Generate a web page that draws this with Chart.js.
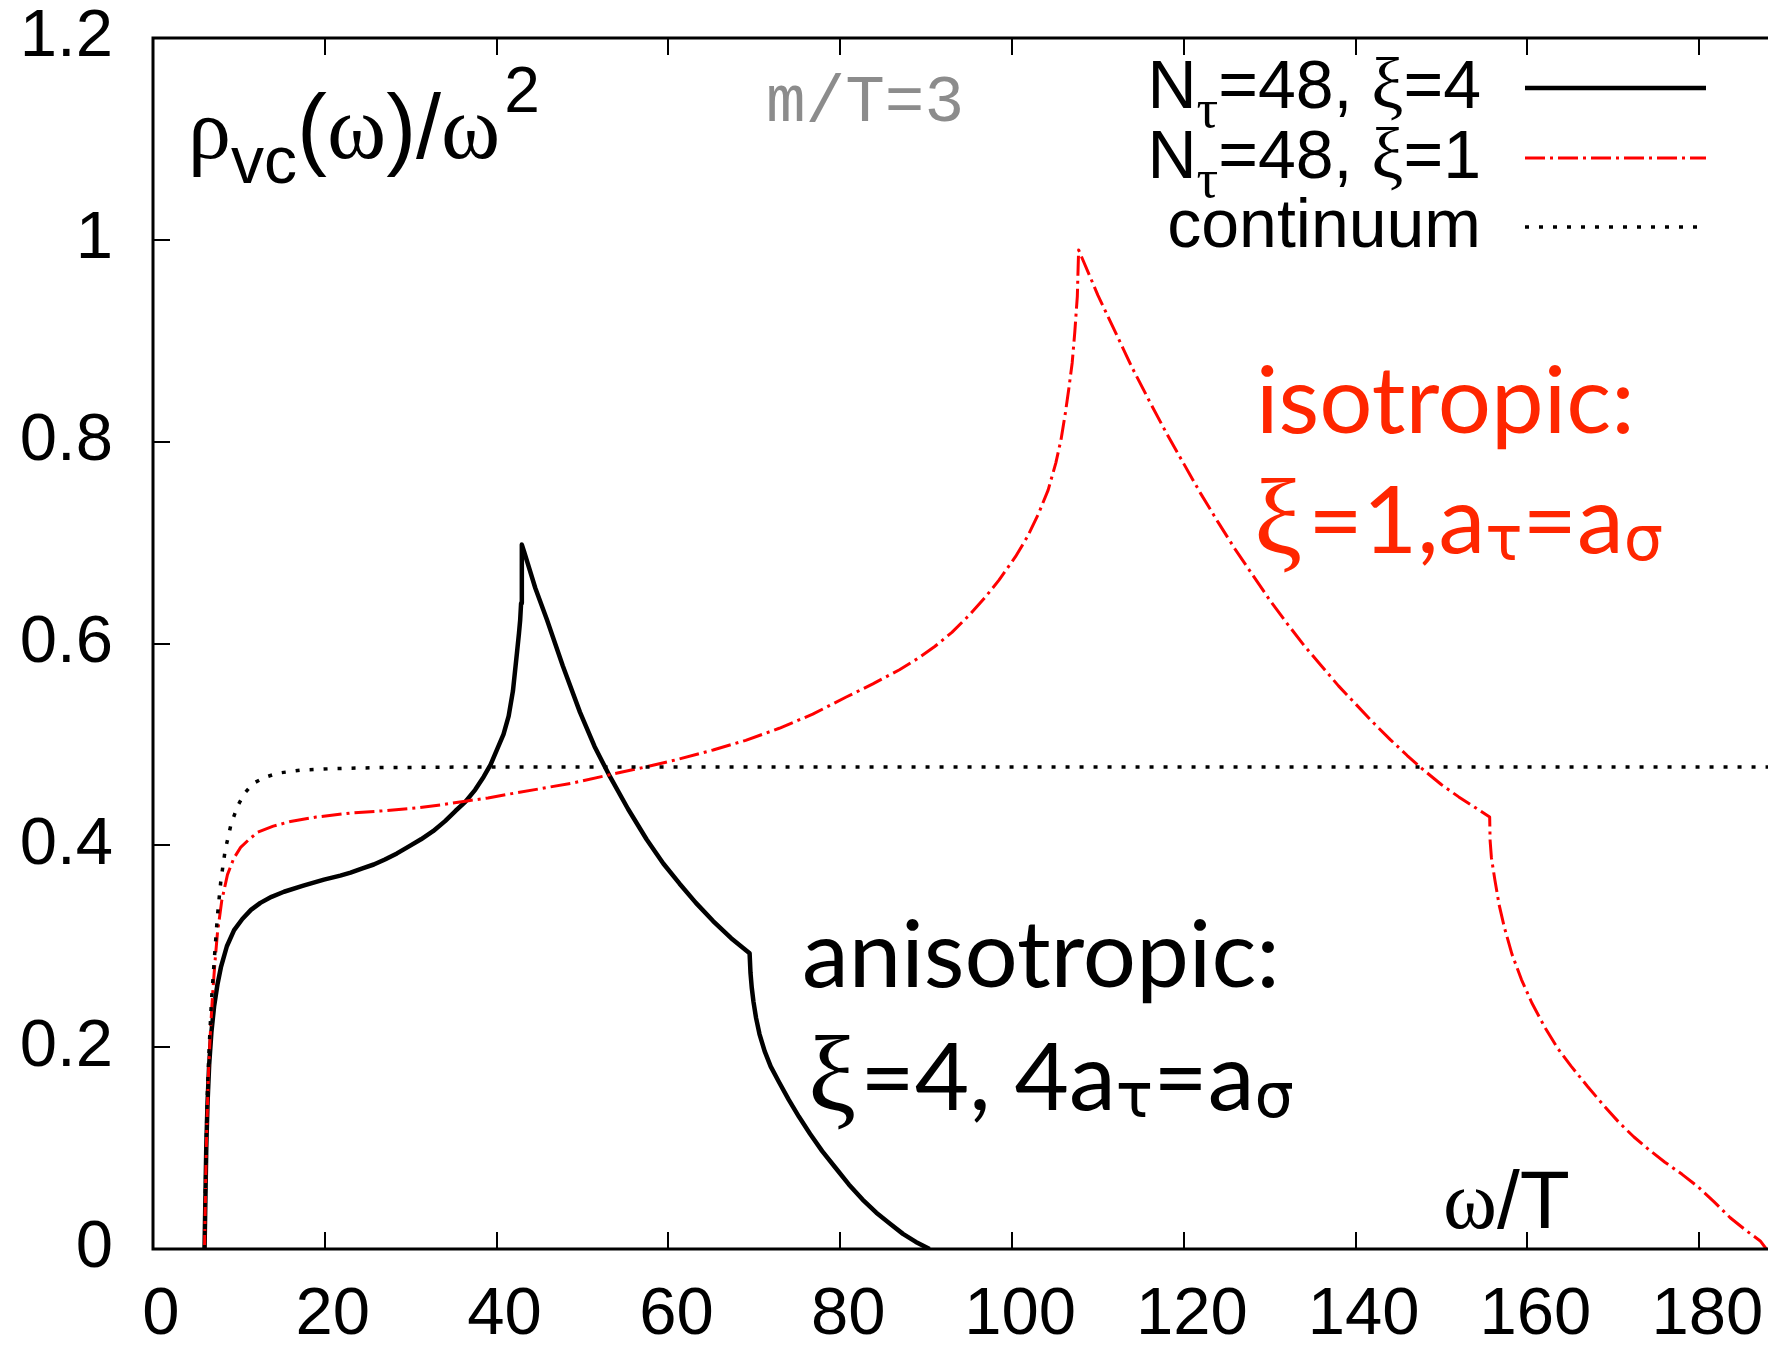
<!DOCTYPE html>
<html>
<head>
<meta charset="utf-8">
<title>rho_vc / omega^2</title>
<script src="https://cdn.jsdelivr.net/npm/chart.js@4.4.1/dist/chart.umd.min.js"></script>
<style>
  body { margin: 0; background: #fff; }
  #wrap { width: 1768px; height: 1345px; }
  canvas { display: block; }
</style>
</head>
<body>
<div id="wrap"><canvas id="myChart" width="1768" height="1345"></canvas></div>
<script>
"use strict"

// tick values
const xTicks = [0, 20, 40, 60, 80, 100, 120, 140, 160, 180];
const yTicks = [0, 0.2, 0.4, 0.6, 0.8, 1, 1.2];

// N_tau=48, xi=4 (anisotropic)
const omegaAniso = [6.0, 6.1, 6.2, 6.35, 6.54, 6.8, 7.12, 7.5, 7.9, 8.6, 9.44, 10.4, 11.4, 12.5, 13.8, 15.25, 17.5, 19.9, 21.8, 23.0,
  24.3, 25.7, 27.0, 28.4, 29.8, 31.2, 32.6, 34.0, 35.2, 36.35, 37.5, 38.5, 39.3, 40.03, 40.8, 41.4, 41.9, 42.36, 42.6, 42.74,
  42.85, 42.92, 42.95,
  43.2, 44.5, 45.84, 47.7, 49.7, 51.4, 53.2, 55.3, 57.45, 59.4, 61.3, 63.2, 65.2, 67.3, 69.45,
  69.55, 69.7, 69.9, 70.2, 70.6, 71.2, 71.9, 72.9, 74.0, 75.2, 76.5, 77.9, 79.4, 81.0, 82.6, 84.2, 85.8, 87.3, 88.8, 90.4];
const rhoAniso = [0, 0.05, 0.1, 0.145, 0.183, 0.215, 0.241, 0.262, 0.279, 0.300, 0.316, 0.327, 0.336, 0.343, 0.349, 0.354, 0.360, 0.366, 0.370, 0.373,
  0.377, 0.381, 0.386, 0.392, 0.399, 0.406, 0.414, 0.424, 0.434, 0.443, 0.455, 0.468, 0.480, 0.4945, 0.510, 0.528, 0.553, 0.590, 0.610, 0.623,
  0.64, 0.66, 0.698,
  0.691, 0.655, 0.624, 0.578, 0.532, 0.498, 0.468, 0.436, 0.406, 0.382, 0.362, 0.343, 0.325, 0.308, 0.293,
  0.274, 0.259, 0.245, 0.229, 0.213, 0.196, 0.181, 0.165, 0.148, 0.131, 0.114, 0.097, 0.081, 0.064, 0.049, 0.036, 0.025, 0.015, 0.007, 0];

// N_tau=48, xi=1 (isotropic)
const omegaIso = [6.0, 6.1, 6.2, 6.35, 6.5, 6.7, 6.93, 7.2, 7.5, 8.0, 8.67, 9.4, 10.2, 11.2, 12.2, 14, 16, 19, 23, 26.5,
  30.7, 33.5, 36.55, 39, 41.6, 45, 49, 53.2, 57, 61, 65.2, 69, 72.9, 76.8, 80.7, 83.8, 86.9, 89, 91, 93,
  95, 96.8, 98.5, 100.4, 101.8, 103.1, 104.2, 105.1, 105.7, 106.2, 106.6, 107.0, 107.3, 107.6, 107.75,
  108.3, 109, 110, 111, 112, 113, 114, 116, 118, 120, 122, 124, 126, 128, 130, 132, 134, 136, 138,
  140, 142, 144, 146, 148, 150, 152, 154, 155.6,
  155.65, 155.8, 156.2, 156.7, 157.3, 158.2, 159.3, 160.5, 162.0, 163.5, 165.1, 167, 169, 170.7, 172.4, 174.2, 176, 178, 179.8, 181.7,
  183.6, 185.5, 187.1, 187.8];
const rhoIso = [0, 0.05, 0.1, 0.145, 0.183, 0.218, 0.251, 0.283, 0.313, 0.345, 0.371, 0.387, 0.398, 0.406, 0.413, 0.419, 0.4236, 0.428, 0.432, 0.434,
  0.437, 0.440, 0.444, 0.447, 0.451, 0.456, 0.462, 0.470, 0.477, 0.485, 0.4945, 0.504, 0.516, 0.530, 0.547, 0.560, 0.574, 0.585, 0.597, 0.611,
  0.628, 0.645, 0.663, 0.686, 0.706, 0.729, 0.752, 0.779, 0.802, 0.828, 0.852, 0.878, 0.908, 0.944, 0.990,
  0.979, 0.965, 0.945, 0.927, 0.909, 0.891, 0.873, 0.840, 0.808, 0.778, 0.748, 0.720, 0.693, 0.668, 0.643, 0.620, 0.598, 0.578, 0.558,
  0.540, 0.522, 0.505, 0.489, 0.474, 0.460, 0.448, 0.437, 0.428,
  0.405, 0.388, 0.366, 0.341, 0.319, 0.292, 0.267, 0.244, 0.220, 0.199, 0.181, 0.161, 0.141, 0.125, 0.111, 0.098, 0.086, 0.074, 0.062, 0.047,
  0.031, 0.018, 0.008, 0];

// continuum
const omegaCont = [6.0, 6.05, 6.1, 6.2, 6.35, 6.54, 6.8, 7.12, 7.5, 7.9, 8.4, 9.06, 9.8, 10.6, 11.6, 12.9, 14.5, 17.2, 20.9, 26, 35, 188];
const rhoCont = [0, 0.035, 0.06, 0.11, 0.16, 0.20, 0.245, 0.285, 0.33, 0.365, 0.395, 0.42, 0.438, 0.451, 0.461, 0.467, 0.4715, 0.4745, 0.476, 0.477, 0.4775, 0.4775];

const seriesNames = ["N\u03c4=48, \u03be=4", "N\u03c4=48, \u03be=1", "continuum"];

const SANS = "'Liberation Sans', Arial, sans-serif";
const SERIF = "'Liberation Serif', 'DejaVu Serif', serif";
const GILL = "Lato, 'Open Sans', sans-serif";
const GREEK_SANS = "'DejaVu Sans', sans-serif";
const RED = "#ff2600";

function toPoints(xs, ys) {
  return xs.map((v, i) => ({ x: v, y: ys[i] }));
}

// draws a list of [text, font, dy, extraSpace] runs, left or right aligned
function drawRuns(ctx, x, y, runs, align) {
  let total = 0;
  runs.forEach(r => { ctx.font = r[1]; total += ctx.measureText(r[0]).width + (r[3] || 0); });
  let cx = align === "right" ? x - total : x;
  ctx.textAlign = "left";
  ctx.textBaseline = "alphabetic";
  runs.forEach(r => {
    ctx.font = r[1];
    ctx.fillText(r[0], cx, y + (r[2] || 0));
    cx += ctx.measureText(r[0]).width + (r[3] || 0);
  });
}

// frame with inward ticks, like gnuplot
const framePlugin = {
  id: "frame",
  afterDraw(chart) {
    const { ctx, chartArea: a } = chart;
    const xs = chart.scales.x, ys = chart.scales.y;
    ctx.save();
    ctx.strokeStyle = "#000";
    ctx.lineWidth = 3;
    ctx.beginPath();
    ctx.moveTo(a.right + 2, a.top);
    ctx.lineTo(a.left, a.top);
    ctx.lineTo(a.left, a.bottom);
    ctx.lineTo(a.right + 2, a.bottom);
    ctx.stroke();

    ctx.lineWidth = 2;
    ctx.beginPath();
    xTicks.forEach(v => {
      const px = Math.round(xs.getPixelForValue(v));
      ctx.moveTo(px, a.bottom); ctx.lineTo(px, a.bottom - 17);
      ctx.moveTo(px, a.top); ctx.lineTo(px, a.top + 17);
    });
    yTicks.forEach(v => {
      const py = Math.round(ys.getPixelForValue(v));
      ctx.moveTo(a.left, py); ctx.lineTo(a.left + 17, py);
    });
    ctx.stroke();
    ctx.restore();
  }
};

// legend and the text labels
const textPlugin = {
  id: "texts",
  afterDraw(chart) {
    const ctx = chart.ctx;
    ctx.save();
    ctx.fillStyle = "#000";

    // legend
    const styles = [
      { color: "#000", width: 4.5, dash: [] },
      { color: "#ff0000", width: 3, dash: [20, 5, 3, 5] },
      { color: "#000", width: 3.5, dash: [4, 10] }
    ];
    const rowY = [88, 158, 227];
    const rows = [
      [["N", "68px " + SANS], ["\u03c4", "54px " + SERIF, 19], ["=48, ", "68px " + SANS], ["\u03be", "72px " + SERIF], ["=4", "68px " + SANS]],
      [["N", "68px " + SANS], ["\u03c4", "54px " + SERIF, 19], ["=48, ", "68px " + SANS], ["\u03be", "72px " + SERIF], ["=1", "68px " + SANS]],
      [[seriesNames[2], "68px " + SANS]]
    ];
    rows.forEach((r, i) => {
      drawRuns(ctx, 1481, rowY[i] + 20, r, "right");
      ctx.beginPath();
      ctx.strokeStyle = styles[i].color;
      ctx.lineWidth = styles[i].width;
      ctx.setLineDash(styles[i].dash);
      ctx.moveTo(1525, rowY[i]);
      ctx.lineTo(1706, rowY[i]);
      ctx.stroke();
      ctx.setLineDash([]);
    });

    // axis titles
    drawRuns(ctx, 188, 158, [
      ["\u03c1", "86px " + SERIF],
      ["vc", "66px " + SANS, 25],
      ["(", "90px " + SANS],
      ["\u03c9", "90px " + SERIF],
      [")", "90px " + SANS],
      ["/", "90px " + SANS],
      ["\u03c9", "90px " + SERIF, 0, 4],
      ["2", "64px " + SANS, -46]
    ]);
    drawRuns(ctx, 1443, 1228, [
      ["\u03c9", "82px " + SERIF],
      ["/T", "82px " + SANS]
    ]);

    // m/T=3
    ctx.fillStyle = "#8c8c8c";
    drawRuns(ctx, 766, 121, [["m/T=3", "66px 'Liberation Mono', 'DejaVu Sans Mono', monospace"]]);

    // isotropic annotation
    ctx.fillStyle = RED;
    drawRuns(ctx, 1256, 433, [["isotropic:", "94px " + GILL]]);
    drawRuns(ctx, 1254, 553, [
      ["\u03be", "108px " + SERIF, 0, 6],
      ["=1,", "94px " + GILL],
      ["a", "94px " + GILL],
      ["\u03c4", "62px " + GREEK_SANS, 7],
      ["=", "94px " + GILL],
      ["a", "94px " + GILL],
      ["\u03c3", "62px " + GREEK_SANS, 7]
    ]);

    // anisotropic annotation
    ctx.fillStyle = "#000";
    drawRuns(ctx, 802, 987, [["anisotropic:", "94px " + GILL]]);
    drawRuns(ctx, 808, 1110, [
      ["\u03be", "108px " + SERIF, 0, 4],
      ["=4, 4", "94px " + GILL],
      ["a", "94px " + GILL],
      ["\u03c4", "62px " + GREEK_SANS, 7],
      ["=", "94px " + GILL],
      ["a", "94px " + GILL],
      ["\u03c3", "62px " + GREEK_SANS, 7]
    ]);
    ctx.restore();
  }
};

Chart.defaults.font.family = SANS;
Chart.defaults.color = "#000";

const ctx = document.getElementById("myChart");

new Chart(ctx, {
  type: "line",
  data: {
    datasets: [
      {
        label: seriesNames[0],
        data: toPoints(omegaAniso, rhoAniso),
        borderColor: "#000",
        borderWidth: 4.5,
        order: 2
      },
      {
        label: seriesNames[1],
        data: toPoints(omegaIso, rhoIso),
        borderColor: "#ff0000",
        borderWidth: 3,
        borderDash: [20, 5, 3, 5],
        order: 1
      },
      {
        label: seriesNames[2],
        data: toPoints(omegaCont, rhoCont),
        borderColor: "#000",
        borderWidth: 3.5,
        borderDash: [4, 10],
        order: 0
      }
    ]
  },
  options: {
    responsive: false,
    animation: false,
    devicePixelRatio: 1,
    elements: {
      point: { radius: 0 },
      line: { tension: 0, fill: false, borderJoinStyle: "round" }
    },
    layout: { padding: { top: 38, right: 0, bottom: 0, left: 0 } },
    plugins: {
      legend: { display: false },
      tooltip: { enabled: false }
    },
    scales: {
      x: {
        type: "linear",
        min: 0,
        max: 188,
        // tick marks are drawn by the frame plugin, the tickLength only spaces the labels
        grid: { display: false, drawTicks: true, tickLength: 33 },
        border: { display: false },
        afterBuildTicks: s => { s.ticks = xTicks.map(v => ({ value: v })); },
        afterFit: s => { s.height = 96; },
        ticks: {
          font: { size: 67, lineHeight: 1 },
          color: "#000",
          padding: 0,
          labelOffset: 8,
          maxRotation: 0,
          autoSkip: false,
          callback: v => String(v)
        }
      },
      y: {
        type: "linear",
        min: 0,
        max: 1.2,
        grid: { display: false, drawTicks: true, tickLength: 40 },
        border: { display: false },
        afterBuildTicks: s => { s.ticks = yTicks.map(v => ({ value: v })); },
        afterFit: s => { s.width = 153; },
        ticks: {
          font: { size: 67, lineHeight: 1 },
          color: "#000",
          padding: 0,
          autoSkip: false,
          callback: v => String(v)
        }
      }
    }
  },
  plugins: [framePlugin, textPlugin]
});
</script>
</body>
</html>
